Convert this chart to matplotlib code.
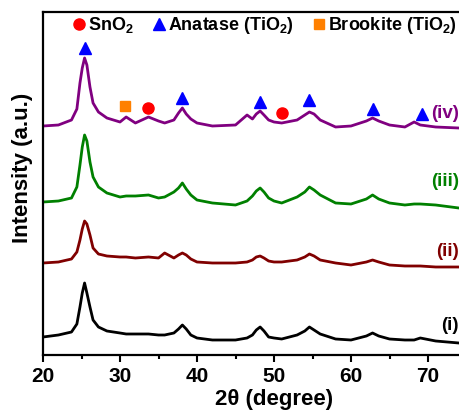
import matplotlib
matplotlib.use("Agg")
import matplotlib.pyplot as plt
from matplotlib.lines import Line2D

plt.rcParams['font.family'] = ['Liberation Sans', 'DejaVu Sans']
plt.rcParams['font.weight'] = 'bold'
plt.rcParams['mathtext.fontset'] = 'custom'
plt.rcParams['mathtext.rm'] = 'Liberation Sans:bold'
plt.rcParams['mathtext.default'] = 'rm'

# 2theta grid (degree)
two_theta = [20, 22, 23.7, 24.4, 24.8, 25.1, 25.4, 25.7, 26.1, 26.5, 27.2, 28.3, 30, 30.8, 32,
             33.7, 35, 35.8, 37, 37.6, 38.1, 38.6, 39.2, 40, 42, 45, 46.5, 47.2, 47.7, 48.2,
             48.7, 49.3, 50, 51, 53, 54.0, 54.6, 55.2, 56, 58, 60, 62.0, 62.8, 63.6, 65, 67,
             68.2, 69, 71, 74, 77, 80]

# stacked intensities (a.u.), offsets included
int_i = [18, 20, 23, 31, 48, 62, 72, 62, 48, 35, 28, 24, 22, 21, 21,
         21, 20, 20, 22, 26, 30, 26, 20, 17, 15, 15, 17, 20, 25, 28,
         24, 18, 17, 16, 20, 24, 28, 25, 21, 16, 15, 19, 22, 19, 16, 15,
         15, 17, 14, 12, 11, 11]
int_ii = [92, 93, 96, 103, 115, 126, 134, 131, 120, 107, 101, 99, 98, 98, 97,
          98, 97, 102, 97, 100, 102, 100, 96, 93, 92, 92, 93, 95, 98, 99,
          97, 94, 93, 93, 95, 98, 101, 99, 95, 92, 90, 93, 95, 93, 90, 89,
          89, 89, 88, 88, 87, 87]
int_iii = [153, 154, 157, 168, 190, 208, 220, 214, 193, 178, 168, 162, 158, 159, 159,
           160, 157, 158, 163, 167, 172, 166, 160, 155, 152, 150, 154, 159, 164, 167,
           163, 157, 154, 152, 158, 163, 168, 165, 160, 152, 151, 156, 160, 156, 152, 150,
           151, 151, 150, 147, 146, 146]
int_iv = [229, 230, 235, 246, 272, 287, 297, 290, 268, 252, 243, 237, 233, 238, 232,
          238, 234, 232, 235, 242, 247, 241, 236, 232, 229, 230, 240, 236, 241, 244,
          240, 235, 233, 232, 235, 240, 243, 241, 235, 228, 229, 234, 237, 234, 230, 228,
          233, 230, 228, 227, 226, 226]

series = [int_i, int_ii, int_iii, int_iv]
labels = ['(i)', '(ii)', '(iii)', '(iv)']
colors = ['black', '#800000', '#008000', '#800080']
label_y = [30, 103, 173, 242]

# phase markers on curve (iv)
anatase_x = [25.5, 38.0, 48.2, 54.6, 62.9, 69.2]
anatase_y = [307, 257, 253, 255, 246, 241]
sno2_x = [33.7, 51.0]
sno2_y = [247, 242]
brookite_x = [30.7]
brookite_y = [249]

fig = plt.figure(figsize=(4.59, 4.17), dpi=100)
ax = fig.add_axes([43 / 459, 62 / 417, 462 / 459, 343 / 417])

for y, lab, c, ly in zip(series, labels, colors, label_y):
    ax.plot(two_theta, y, color=c, lw=2.0)
    ax.text(74.0, ly, lab, color=c, fontsize=13.5, fontweight='bold', va='center', ha='right')

ax.plot(anatase_x, anatase_y, '^', color='#0000ff', ms=8, ls='none')
ax.plot(sno2_x, sno2_y, 'o', color='#ff0000', ms=8, ls='none')
ax.plot(brookite_x, brookite_y, 's', color='#ff8000', ms=7.5, ls='none')

handles = [Line2D([], [], marker='o', color='#ff0000', ls='none', ms=8),
           Line2D([], [], marker='^', color='#0000ff', ls='none', ms=8),
           Line2D([], [], marker='s', color='#ff8000', ls='none', ms=7.5)]
ax.legend(handles, ['SnO$_2$', 'Anatase (TiO$_2$)', 'Brookite (TiO$_2$)'], ncol=3,
          frameon=False, loc='upper left', bbox_to_anchor=(0.066, 0.99),
          borderpad=0, borderaxespad=0, handlelength=0.6, handletextpad=0.2,
          columnspacing=1.1, prop={'size': 13, 'weight': 'bold'})

ax.set_xlim(20, 80)
ax.set_ylim(0, 343)
ax.set_xticks([20, 30, 40, 50, 60, 70])
ax.set_xticks([25, 35, 45, 55, 65], minor=True)
ax.set_yticks([])
ax.tick_params(axis='x', which='major', length=5, width=1.5, labelsize=15, pad=4)
ax.tick_params(axis='x', which='minor', length=3, width=1.5)
for s in ax.spines.values():
    s.set_linewidth(1.6)

ax.set_xlabel('2θ (degree)', fontsize=16, fontweight='bold', labelpad=2)
ax.set_ylabel('Intensity (a.u.)', fontsize=16, fontweight='bold')
ax.yaxis.set_label_coords(-0.022, 0.545)

fig.savefig('out.png', dpi=100)
